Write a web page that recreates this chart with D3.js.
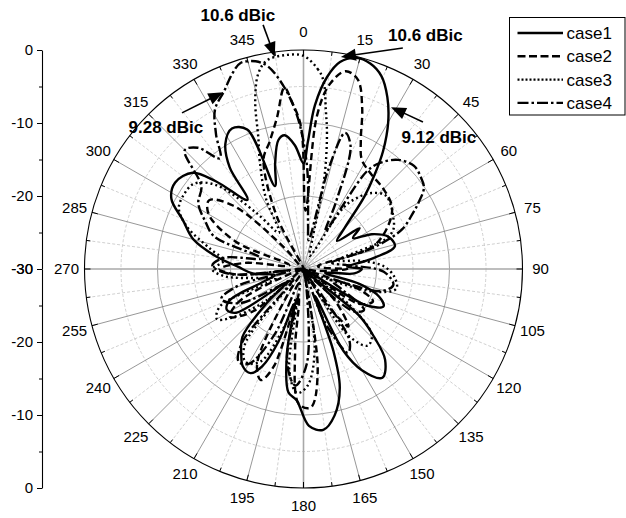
<!DOCTYPE html>
<html>
<head>
<meta charset="utf-8">
<title>Radiation pattern</title>
<style>
body { margin: 0; background: #fff; }
svg text { font-family: "Liberation Sans", Arial, Helvetica, sans-serif; fill: #000; }
.curve { fill: none; stroke: #000; stroke-width: 2.4px; stroke-linejoin: round; }
.anno { font-weight: bold; font-size: 17px; }
</style>
<script src="https://cdn.jsdelivr.net/npm/d3@7"></script>
</head>
<body>
<script>
"use strict";

// ---- data (gain in dB, angle in degrees, clockwise from top) ----
var seriesNames = ["case1", "case2", "case3", "case4"];

var case1Angles = [0, 2, 4, 7, 10, 14, 18, 22, 26, 30, 34, 37, 40, 45, 50, 54, 58, 63, 69, 76, 82, 87, 90, 95, 100,
  105, 110, 115, 120, 126, 130, 134, 138, 144, 150, 154, 157, 160, 163, 168, 173, 178, 183, 187, 191, 195, 199,
  203, 207, 212, 216, 222, 227, 232, 237, 242, 247, 252, 258, 265, 272, 278, 285, 292, 298, 304, 311, 315, 321,
  324, 328, 333, 338, 341, 345, 349, 352, 356];
var case1Gain = [-15.5, -12.5, -7.5, -3.5, -1.2, -0.2, -0.4, -1.5, -3.8, -6.8, -10.5, -13.8, -17, -22, -24, -20.5,
  -22, -19.5, -17.6, -17.1, -21, -24, -22, -23, -27, -22, -19, -17.9, -20, -30, -20, -16.5, -13.3, -11.6, -14,
  -17.5, -26, -18, -13, -9.5, -7.8, -8.5, -12, -13, -18, -25, -19.5, -15.5, -14, -14.3, -15.5, -17.5, -23, -27,
  -19, -18.1, -19, -24, -26, -23, -21, -18, -14.4, -12.2, -9.5, -8.8, -9.9, -13, -17.8, -12.8, -9.8, -8.4, -9.4,
  -18, -15, -12, -11.5, -13];

var case2Angles = [2, 5, 8, 12, 16, 20, 24, 28, 35, 45, 55, 63, 72, 80, 90, 98, 105, 110, 115, 122, 128, 135, 142,
  148, 155, 163, 172, 177, 182, 186, 190, 197, 201, 206, 212, 220, 230, 237, 243, 250, 258, 265, 270, 276, 284,
  292, 300, 306, 312, 318, 325, 333, 340, 345, 350, 354, 356, 359];
var case2Gain = [-22, -9, -4.5, -2.3, -3, -6.5, -10.7, -13, -14, -14.5, -15.2, -17, -20, -28, -24, -28, -30, -22,
  -19.5, -21, -30, -24, -20, -25, -30, -30, -16, -11, -11.5, -19, -26, -16, -13.7, -15.5, -26, -30, -21, -18, -20,
  -28, -30, -21, -18.5, -22, -28, -20, -15, -14, -17, -26, -30, -22, -14, -12, -9, -5, -7, -10.5];

var case3Angles = [0, 4, 6, 8, 10, 13, 17, 25, 33, 37, 42, 48, 55, 60, 66, 70, 76, 82, 88, 95, 102, 108, 114, 122,
  128, 134, 140, 146, 152, 165, 172, 178, 183, 188, 193, 198, 205, 212, 218, 224, 230, 236, 240, 246, 252, 258,
  265, 270, 276, 282, 290, 296, 302, 308, 314, 320, 326, 332, 338, 341, 344, 347, 350, 355];
var case3Gain = [-0.8, -2.5, -4, -8, -11.5, -17.5, -26, -28, -20, -17.8, -16, -14.9, -15.3, -15.8, -16.5, -18, -25,
  -22, -19, -17.5, -17, -20, -28, -30, -22, -17, -16.3, -19, -30, -30, -19, -14, -13, -16, -26, -22, -16, -15, -17,
  -28, -23, -18, -16.3, -17.5, -26, -24, -19, -17.5, -19, -17, -13, -11, -10.7, -11, -13.5, -20, -24, -19, -14,
  -11, -6, -2.5, -1, -0.6];

var case4Angles = [2, 6, 10, 14, 17, 21, 26, 30, 33, 36, 41, 47, 52, 56, 60, 63, 68, 73, 78, 85, 92, 100, 106, 112,
  118, 124, 130, 136, 142, 147, 152, 158, 164, 170, 178, 184, 190, 196, 204, 210, 215, 220, 226, 235, 242, 250,
  256, 262, 266, 272, 278, 284, 290, 296, 302, 309, 315, 319, 323, 327, 331, 336, 340, 343, 347, 350, 354, 358];
var case4Gain = [-16, -24, -26, -16, -10.5, -12, -20, -24, -14, -12, -10.2, -9.3, -9.6, -10.1, -11.8, -13.2, -15.4,
  -20, -26, -24, -19, -17.5, -19, -26, -24, -20, -21, -28, -30, -18.5, -17, -22, -30, -28, -17, -14, -17, -28, -20,
  -15, -14.5, -17, -28, -26, -20, -18, -21, -28, -20, -17.5, -19, -24, -17, -15, -13, -12, -7, -8, -11, -8, -5,
  -3.3, -1.5, -0.5, -0.8, -1.8, -5, -9.5];

var angleTicks = [0, 15, 30, 45, 60, 75, 90, 105, 120, 135, 150, 165, 180, 195, 210, 225, 240, 255, 270, 285, 300,
  315, 330, 345];
var gainTicks = [0, -10, -20, -30];
var gainMinorTicks = [-5, -15, -25];

// annotations: label, arrow tip, arrow tail and label centre, in (angle, gain) coordinates
var annoText = ["10.6 dBic", "10.6 dBic", "9.12 dBic", "9.28 dBic"];
var annoTipAngle = [352.3, 10.0, 28.4, 335.6];
var annoTipGain = [-0.7, -0.5, -4.8, -3.4];
var annoTailAngle = [350.6, 24.2, 39.1, 322.1];
var annoTailGain = [3.9, 3.2, -4.05, -2.9];
var annoTextAngle = [345.5, 27.5, 45.75, 315.9];
var annoTextGain = [5.9, 6.15, -4.1, -2.9];

// ---- layout ----
var width = 626, height = 518;
var cx = 303.5, cy = 269, R = 219;
var dashes = {case1: null, case2: "7,4", case3: "2,3", case4: "10,3,2.5,3"};
var legendDashes = {case1: null, case2: "8,3.5", case3: "2,2", case4: "11,3,2.5,3"};

var svg = d3.select("body").append("svg")
    .attr("width", width)
    .attr("height", height);

var r = d3.scaleLinear().domain([-30, 0]).range([0, R]);
function rad(a) { return a * Math.PI / 180; }
function pt(a, gdb) {
  return [r(gdb) * Math.sin(rad(a)), -r(gdb) * Math.cos(rad(a))];
}

var plot = svg.append("g")
    .attr("transform", "translate(" + cx + "," + cy + ")");

// minor rings (dashed) and major rings (solid)
plot.selectAll(".ring-minor")
    .data(gainMinorTicks)
  .enter().append("circle")
    .attr("r", function(d) { return r(d); })
    .attr("fill", "none")
    .attr("stroke", "#c4c4c4")
    .attr("stroke-width", 0.8)
    .attr("stroke-dasharray", "3,2");

plot.selectAll(".ring-major")
    .data([-20, -10])
  .enter().append("circle")
    .attr("r", function(d) { return r(d); })
    .attr("fill", "none")
    .attr("stroke", "#8c8c8c")
    .attr("stroke-width", 0.8);

// minor spokes every 7.5 deg between the labelled ones
var minorSpokes = angleTicks.map(function(a) { return a + 7.5; });
plot.selectAll(".spoke-minor")
    .data(minorSpokes)
  .enter().append("line")
    .attr("x1", 0).attr("y1", 0)
    .attr("x2", function(d) { return pt(d, 0)[0]; })
    .attr("y2", function(d) { return pt(d, 0)[1]; })
    .attr("stroke", "#c4c4c4")
    .attr("stroke-width", 0.8)
    .attr("stroke-dasharray", "3,2");

plot.selectAll(".spoke-major")
    .data(angleTicks)
  .enter().append("line")
    .attr("x1", 0).attr("y1", 0)
    .attr("x2", function(d) { return pt(d, 0)[0]; })
    .attr("y2", function(d) { return pt(d, 0)[1]; })
    .attr("stroke", function(d) { return d % 90 === 0 ? "#a8a8a8" : "#7c7c7c"; })
    .attr("stroke-width", function(d) { return d % 90 === 0 ? 1.6 : 0.8; });

// curves
var series = [
  {name: "case1", angles: case1Angles, gain: case1Gain},
  {name: "case2", angles: case2Angles, gain: case2Gain},
  {name: "case3", angles: case3Angles, gain: case3Gain},
  {name: "case4", angles: case4Angles, gain: case4Gain}
];

var radial = d3.lineRadial()
    .angle(function(d) { return rad(d.a); })
    .radius(function(d) { return r(Math.max(-30, d.g)); })
    .curve(d3.curveCatmullRomClosed.alpha(0.5));

plot.selectAll(".curve")
    .data(series)
  .enter().append("path")
    .attr("class", "curve")
    .attr("d", function(s) {
      return radial(s.angles.map(function(a, i) { return {a: a, g: s.gain[i]}; }));
    })
    .attr("stroke-dasharray", function(s) { return dashes[s.name]; });

// outer circle with inward ticks
plot.append("circle")
    .attr("r", R)
    .attr("fill", "none")
    .attr("stroke", "#000")
    .attr("stroke-width", 1.1);

plot.selectAll(".tick-major")
    .data(angleTicks)
  .enter().append("line")
    .attr("x1", function(d) { return (R - 6) * Math.sin(rad(d)); })
    .attr("y1", function(d) { return -(R - 6) * Math.cos(rad(d)); })
    .attr("x2", function(d) { return R * Math.sin(rad(d)); })
    .attr("y2", function(d) { return -R * Math.cos(rad(d)); })
    .attr("stroke", "#000")
    .attr("stroke-width", 1);

plot.selectAll(".tick-minor")
    .data(minorSpokes)
  .enter().append("line")
    .attr("x1", function(d) { return (R - 4) * Math.sin(rad(d)); })
    .attr("y1", function(d) { return -(R - 4) * Math.cos(rad(d)); })
    .attr("x2", function(d) { return R * Math.sin(rad(d)); })
    .attr("y2", function(d) { return -R * Math.cos(rad(d)); })
    .attr("stroke", "#000")
    .attr("stroke-width", 1);

// angle labels
var labelR = R + 18;
plot.selectAll(".angle-label")
    .data(angleTicks)
  .enter().append("text")
    .attr("x", function(d) { return labelR * Math.sin(rad(d)); })
    .attr("y", function(d) { return -labelR * Math.cos(rad(d)); })
    .attr("text-anchor", "middle")
    .attr("dy", "0.35em")
    .style("font-size", "15px")
    .text(function(d) { return d; });

// left gain axis, mirrored about the centre
var axisX = 42;
var yTop = d3.scaleLinear().domain([-30, 0]).range([cy, cy - R]);
var yBot = d3.scaleLinear().domain([-30, 0]).range([cy, cy + R]);

[yTop, yBot].forEach(function(y) {
  var ax = svg.append("g")
      .attr("transform", "translate(" + axisX + ",0)")
      .call(d3.axisLeft(y).tickValues(gainTicks).tickSize(5).tickSizeOuter(0).tickPadding(4)
        .tickFormat(function(d) { return String(d); }));
  ax.selectAll("text").style("font-size", "15px").attr("font-family", null);
  ax.select(".domain").attr("stroke-width", 1.1);
  svg.append("g")
      .attr("transform", "translate(" + axisX + ",0)")
      .call(d3.axisLeft(y).tickValues(gainMinorTicks).tickSize(3).tickSizeOuter(0).tickFormat(""))
    .select(".domain").remove();
});

// legend
var legend = svg.append("g").attr("transform", "translate(509.5,17.5)");
legend.append("rect")
    .attr("width", 115.5)
    .attr("height", 97.5)
    .attr("fill", "#fff")
    .attr("stroke", "#000")
    .attr("stroke-width", 1);

var items = legend.selectAll(".item")
    .data(seriesNames)
  .enter().append("g")
    .attr("transform", function(d, i) { return "translate(0," + (15.5 + i * 23.3) + ")"; });

items.append("line")
    .attr("x1", 8).attr("x2", 53.5)
    .attr("stroke", "#000")
    .attr("stroke-width", 2.4)
    .attr("stroke-dasharray", function(d) { return legendDashes[d]; });

items.append("text")
    .attr("x", 57)
    .attr("dy", "0.35em")
    .style("font-size", "17px")
    .text(function(d) { return d; });

// annotations with arrows
var annos = annoText.map(function(t, i) {
  return {
    text: t,
    tip: pt(annoTipAngle[i], annoTipGain[i]),
    tail: pt(annoTailAngle[i], annoTailGain[i]),
    label: pt(annoTextAngle[i], annoTextGain[i])
  };
});

var headLen = 15, headHalf = 6;
annos.forEach(function(d) {
  var vx = d.tip[0] - d.tail[0], vy = d.tip[1] - d.tail[1];
  var len = Math.sqrt(vx * vx + vy * vy);
  var ux = vx / len, uy = vy / len;
  var bx = d.tip[0] - ux * headLen, by = d.tip[1] - uy * headLen;
  plot.append("line")
      .attr("x1", d.tail[0]).attr("y1", d.tail[1])
      .attr("x2", bx + ux * 2).attr("y2", by + uy * 2)
      .attr("stroke", "#000")
      .attr("stroke-width", 1.6);
  plot.append("path")
      .attr("d", "M" + d.tip[0] + "," + d.tip[1] +
        "L" + (bx - uy * headHalf) + "," + (by + ux * headHalf) +
        "L" + (bx + uy * headHalf) + "," + (by - ux * headHalf) + "Z")
      .attr("fill", "#000");
  plot.append("text")
      .attr("class", "anno")
      .attr("x", d.label[0])
      .attr("y", d.label[1])
      .attr("text-anchor", "middle")
      .attr("dy", "0.35em")
      .text(d.text);
});
</script>
</body>
</html>
